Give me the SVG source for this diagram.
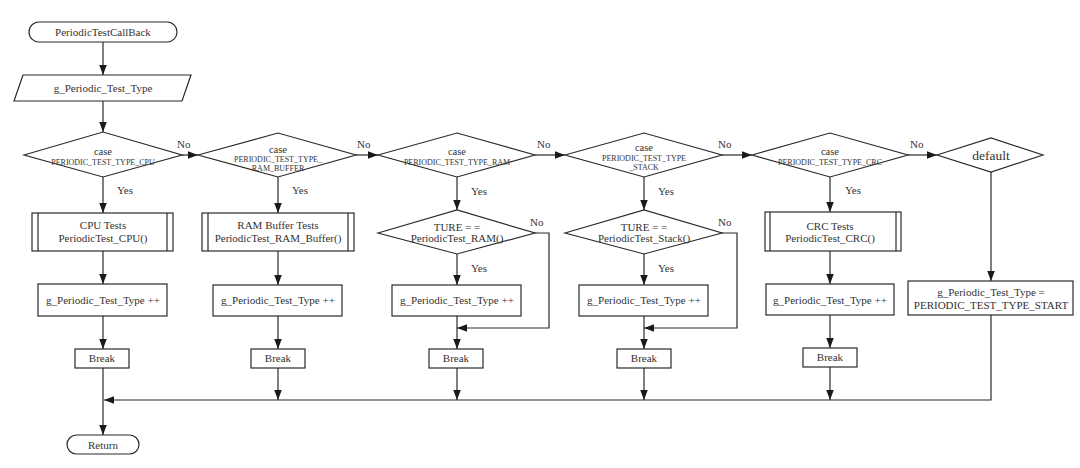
<svg xmlns="http://www.w3.org/2000/svg" width="1080" height="468" viewBox="0 0 1080 468">
<defs>
<marker id="ah" markerUnits="userSpaceOnUse" markerWidth="11" markerHeight="8" refX="10" refY="3.75" orient="auto">
<path d="M0,0 L10,3.75 L0,7.5 z" fill="#1a1a1a"/>
</marker>
</defs>
<style>
.s{fill:#fff;stroke:#2a2a2a;stroke-width:1.2}
.t{font-family:"Liberation Serif","Times New Roman",serif;font-size:11px;fill:#333;text-anchor:middle}
.sm{font-size:8px}
.cs{font-size:10.5px}
.df{font-size:13.5px}
.lb{font-family:"Liberation Serif","Times New Roman",serif;font-size:11px;fill:#333}
.c{fill:none;stroke:#2a2a2a;stroke-width:1.2}
.a{marker-end:url(#ah)}
</style>
<rect width="1080" height="468" fill="#fff"/>
<g id="connectors">
<line class="c a" x1="103" y1="42" x2="103" y2="75"/>
<line class="c a" x1="103" y1="101" x2="103" y2="132"/>
<line class="c a" x1="103" y1="177" x2="103" y2="213"/>
<line class="c a" x1="103" y1="251" x2="103" y2="284"/>
<line class="c a" x1="103" y1="316" x2="103" y2="349"/>
<line class="c a" x1="103" y1="368" x2="103" y2="435"/>
<line class="c a" x1="182" y1="155" x2="198" y2="155"/>
<line class="c a" x1="278" y1="177" x2="278" y2="213"/>
<line class="c a" x1="278" y1="251" x2="278" y2="285"/>
<line class="c a" x1="278" y1="316" x2="278" y2="349"/>
<line class="c a" x1="278" y1="368" x2="278" y2="400"/>
<line class="c a" x1="356" y1="155" x2="378" y2="155"/>
<line class="c a" x1="457" y1="177" x2="457" y2="210"/>
<line class="c a" x1="457" y1="254" x2="457" y2="285"/>
<polyline class="c a" points="535,233 549,233 549,328 457,328"/>
<line class="c a" x1="457" y1="316" x2="457" y2="349"/>
<line class="c a" x1="457" y1="368" x2="457" y2="400"/>
<line class="c a" x1="535" y1="155" x2="565" y2="155"/>
<line class="c a" x1="644" y1="177" x2="644" y2="210"/>
<line class="c a" x1="644" y1="254" x2="644" y2="285"/>
<polyline class="c a" points="722,233 737,233 737,328 644,328"/>
<line class="c a" x1="644" y1="316" x2="644" y2="349"/>
<line class="c a" x1="644" y1="368" x2="644" y2="400"/>
<line class="c a" x1="722" y1="155" x2="752" y2="155"/>
<line class="c a" x1="830" y1="177" x2="830" y2="212"/>
<line class="c a" x1="830" y1="251" x2="830" y2="284"/>
<line class="c a" x1="830" y1="315" x2="830" y2="348"/>
<line class="c a" x1="830" y1="367" x2="830" y2="400"/>
<line class="c a" x1="908" y1="155" x2="937" y2="155"/>
<line class="c a" x1="991" y1="172" x2="991" y2="281"/>
<polyline class="c a" points="991,315 991,400 104,400"/>
<text class="lb" x="177" y="148">No</text>
<text class="lb" x="357" y="148">No</text>
<text class="lb" x="537" y="148">No</text>
<text class="lb" x="718" y="148">No</text>
<text class="lb" x="910" y="148">No</text>
<text class="lb" x="530" y="226">No</text>
<text class="lb" x="718" y="226">No</text>
<text class="lb" x="117" y="194">Yes</text>
<text class="lb" x="292" y="194">Yes</text>
<text class="lb" x="471" y="195">Yes</text>
<text class="lb" x="658" y="195">Yes</text>
<text class="lb" x="845" y="194">Yes</text>
<text class="lb" x="471" y="272">Yes</text>
<text class="lb" x="658" y="272">Yes</text>
</g>
<g id="start">
<rect class="s" x="29" y="22" width="148" height="20" rx="10"/>
<text class="t" x="103" y="36">PeriodicTestCallBack</text>
</g>
<g id="input">
<polygon class="s" points="23,75 191,75 182,101 14,101"/>
<text class="t" x="103" y="92">g_Periodic_Test_Type</text>
</g>
<g id="caseCPU">
<polygon class="s" points="24,155 103,132 182,155 103,177"/>
<text class="t cs" x="103" y="155">case</text>
<text class="t sm" x="103" y="165">PERIODIC_TEST_TYPE_CPU</text>
</g>
<g id="caseRAMBuffer">
<polygon class="s" points="198,155 278,133 356,155 278,177"/>
<text class="t cs" x="278" y="153">case</text>
<text class="t sm" x="278" y="162">PERIODIC_TEST_TYPE_</text>
<text class="t sm" x="278" y="171">RAM_BUFFER</text>
</g>
<g id="caseRAM">
<polygon class="s" points="378,155 457,133 535,155 457,177"/>
<text class="t cs" x="457" y="155">case</text>
<text class="t sm" x="457" y="165">PERIODIC_TEST_TYPE_RAM</text>
</g>
<g id="caseStack">
<polygon class="s" points="565,155 644,133 722,155 644,177"/>
<text class="t cs" x="644" y="151">case</text>
<text class="t sm" x="644" y="161">PERIODIC_TEST_TYPE</text>
<text class="t sm" x="644" y="170">_STACK</text>
</g>
<g id="caseCRC">
<polygon class="s" points="752,155 830,133 908,155 830,177"/>
<text class="t cs" x="830" y="155">case</text>
<text class="t sm" x="830" y="165">PERIODIC_TEST_TYPE_CRC</text>
</g>
<g id="default">
<polygon class="s" points="937,155 991,138 1043,155 991,172"/>
<text class="t df" x="991" y="160">default</text>
</g>
<g id="cpuTests">
<rect class="s" x="32" y="213" width="141" height="38"/>
<line class="c" x1="38" y1="213" x2="38" y2="251"/>
<line class="c" x1="167" y1="213" x2="167" y2="251"/>
<text class="t" x="103" y="229">CPU Tests</text>
<text class="t" x="103" y="242">PeriodicTest_CPU()</text>
</g>
<g id="ramBufferTests">
<rect class="s" x="202" y="213" width="152" height="38"/>
<line class="c" x1="208" y1="213" x2="208" y2="251"/>
<line class="c" x1="348" y1="213" x2="348" y2="251"/>
<text class="t" x="278" y="229">RAM Buffer Tests</text>
<text class="t" x="278" y="242">PeriodicTest_RAM_Buffer()</text>
</g>
<g id="ramCheck">
<polygon class="s" points="378,233 457,210 535,233 457,254"/>
<text class="t" x="457" y="231">TURE = =</text>
<text class="t" x="457" y="242">PeriodicTest_RAM()</text>
</g>
<g id="stackCheck">
<polygon class="s" points="565,233 644,210 722,233 644,254"/>
<text class="t" x="644" y="231">TURE = =</text>
<text class="t" x="644" y="242">PeriodicTest_Stack()</text>
</g>
<g id="crcTests">
<rect class="s" x="765" y="212" width="136" height="39"/>
<line class="c" x1="770" y1="212" x2="770" y2="251"/>
<line class="c" x1="896" y1="212" x2="896" y2="251"/>
<text class="t" x="830" y="230">CRC Tests</text>
<text class="t" x="830" y="242">PeriodicTest_CRC()</text>
</g>
<g id="inc1">
<rect class="s" x="38" y="284" width="129" height="32"/>
<text class="t" x="103" y="304">g_Periodic_Test_Type ++</text>
</g>
<g id="inc2">
<rect class="s" x="213" y="285" width="129" height="31"/>
<text class="t" x="278" y="304">g_Periodic_Test_Type ++</text>
</g>
<g id="inc3">
<rect class="s" x="392" y="285" width="129" height="31"/>
<text class="t" x="457" y="304">g_Periodic_Test_Type ++</text>
</g>
<g id="inc4">
<rect class="s" x="579" y="285" width="129" height="31"/>
<text class="t" x="644" y="304">g_Periodic_Test_Type ++</text>
</g>
<g id="inc5">
<rect class="s" x="766" y="284" width="128" height="31"/>
<text class="t" x="830" y="304">g_Periodic_Test_Type ++</text>
</g>
<g id="resetType">
<rect class="s" x="908" y="281" width="165" height="34"/>
<text class="t" x="991" y="296">g_Periodic_Test_Type =</text>
<text class="t" x="991" y="309">PERIODIC_TEST_TYPE_START</text>
</g>
<g id="break1">
<rect class="s" x="75" y="349" width="54" height="19"/>
<text class="t" x="102" y="362">Break</text>
</g>
<g id="break2">
<rect class="s" x="251" y="349" width="54" height="19"/>
<text class="t" x="278" y="362">Break</text>
</g>
<g id="break3">
<rect class="s" x="429" y="349" width="54" height="19"/>
<text class="t" x="456" y="362">Break</text>
</g>
<g id="break4">
<rect class="s" x="617" y="349" width="54" height="19"/>
<text class="t" x="644" y="362">Break</text>
</g>
<g id="break5">
<rect class="s" x="803" y="348" width="54" height="19"/>
<text class="t" x="830" y="361">Break</text>
</g>
<g id="return">
<rect class="s" x="67" y="435" width="72" height="19" rx="9.5"/>
<text class="t" x="103" y="449">Return</text>
</g>
</svg>
